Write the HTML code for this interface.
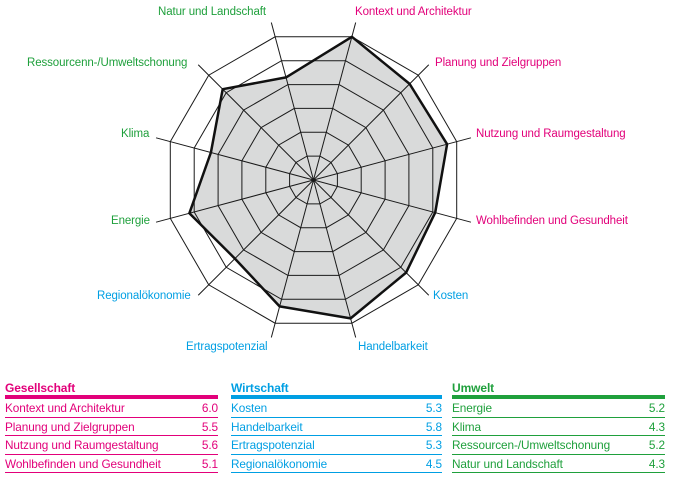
<!DOCTYPE html><html><head><meta charset="utf-8"><style>
body{margin:0;width:673px;height:479px;background:#fff;font-family:"Liberation Sans",sans-serif;overflow:hidden;position:relative}
svg{position:absolute;left:0;top:0}
.t{position:absolute;font-size:11.5px;letter-spacing:-0.1px}
.col{position:absolute;top:381px;width:213px;font-size:11.8px;letter-spacing:-0.1px}
.col .h{font-weight:bold;font-size:12px;height:14px;border-bottom:4px solid;line-height:14px}
.col .r{height:17.5px;line-height:18px;border-bottom:1.5px solid;display:flex;justify-content:space-between}
.p{color:#e2007a}.p .h,.p .r{border-color:#e2007a}
.b{color:#009fe3}.b .h,.b .r{border-color:#009fe3}
.g{color:#1fa03c}.g .h,.g .r{border-color:#1fa03c}
</style></head><body>
<svg id="s" width="673" height="479"></svg>
<div class="t" style="left:158px;top:6px;color:#1fa03c">Natur und Landschaft</div>
<div class="t" style="left:355px;top:6px;color:#e2007a">Kontext und Architektur</div>
<div class="t" style="left:27px;top:57px;color:#1fa03c">Ressourcenn-/Umweltschonung</div>
<div class="t" style="left:435px;top:57px;color:#e2007a">Planung und Zielgruppen</div>
<div class="t" style="left:121px;top:128px;color:#1fa03c">Klima</div>
<div class="t" style="left:476px;top:128px;color:#e2007a">Nutzung und Raumgestaltung</div>
<div class="t" style="left:111px;top:215px;color:#1fa03c">Energie</div>
<div class="t" style="left:476px;top:215px;color:#e2007a">Wohlbefinden und Gesundheit</div>
<div class="t" style="left:97px;top:290px;color:#009fe3">Regionalökonomie</div>
<div class="t" style="left:433px;top:290px;color:#009fe3">Kosten</div>
<div class="t" style="left:186px;top:341px;color:#009fe3">Ertragspotenzial</div>
<div class="t" style="left:358px;top:341px;color:#009fe3">Handelbarkeit</div>
<div class="col p" style="left:5px"><div class="h">Gesellschaft</div>
<div class="r"><span>Kontext und Architektur</span><span>6.0</span></div>
<div class="r"><span>Planung und Zielgruppen</span><span>5.5</span></div>
<div class="r"><span>Nutzung und Raumgestaltung</span><span>5.6</span></div>
<div class="r"><span>Wohlbefinden und Gesundheit</span><span>5.1</span></div></div>
<div class="col b" style="left:231px;width:211px"><div class="h">Wirtschaft</div>
<div class="r"><span>Kosten</span><span>5.3</span></div>
<div class="r"><span>Handelbarkeit</span><span>5.8</span></div>
<div class="r"><span>Ertragspotenzial</span><span>5.3</span></div>
<div class="r"><span>Regionalökonomie</span><span>4.5</span></div></div>
<div class="col g" style="left:452px"><div class="h">Umwelt</div>
<div class="r"><span>Energie</span><span>5.2</span></div>
<div class="r"><span>Klima</span><span>4.3</span></div>
<div class="r"><span>Ressourcen-/Umweltschonung</span><span>5.2</span></div>
<div class="r"><span>Natur und Landschaft</span><span>4.3</span></div></div>
<script>
var cx=313.5,cy=180,u=24.7,vals=[6.0,5.5,5.6,5.1,5.3,5.8,5.3,4.5,5.2,4.3,5.2,4.3];
function pt(i,r){var a=(15+30*i)*Math.PI/180;return [cx+r*Math.sin(a),cy-r*Math.cos(a)];}
function poly(f){var s=[];for(var i=0;i<12;i++){var p=pt(i,f(i));s.push(p[0].toFixed(1)+","+p[1].toFixed(1));}return s.join(" ");}
var h='<polygon points="'+poly(function(i){return vals[i]*u})+'" fill="#d9dada"/>';
for(var k=1;k<=6;k++)h+='<polygon points="'+poly(function(){return k*u})+'" fill="none" stroke="#1a1a1a" stroke-width="1"/>';
for(var i=0;i<12;i++){var p=pt(i,163);h+='<line x1="'+cx+'" y1="'+cy+'" x2="'+p[0]+'" y2="'+p[1]+'" stroke="#1a1a1a" stroke-width="1"/>';}
h+='<polygon points="'+poly(function(i){return vals[i]*u})+'" fill="none" stroke="#111" stroke-width="2.5" stroke-linejoin="round"/>';
document.getElementById('s').innerHTML=h;
</script>
</body></html>
